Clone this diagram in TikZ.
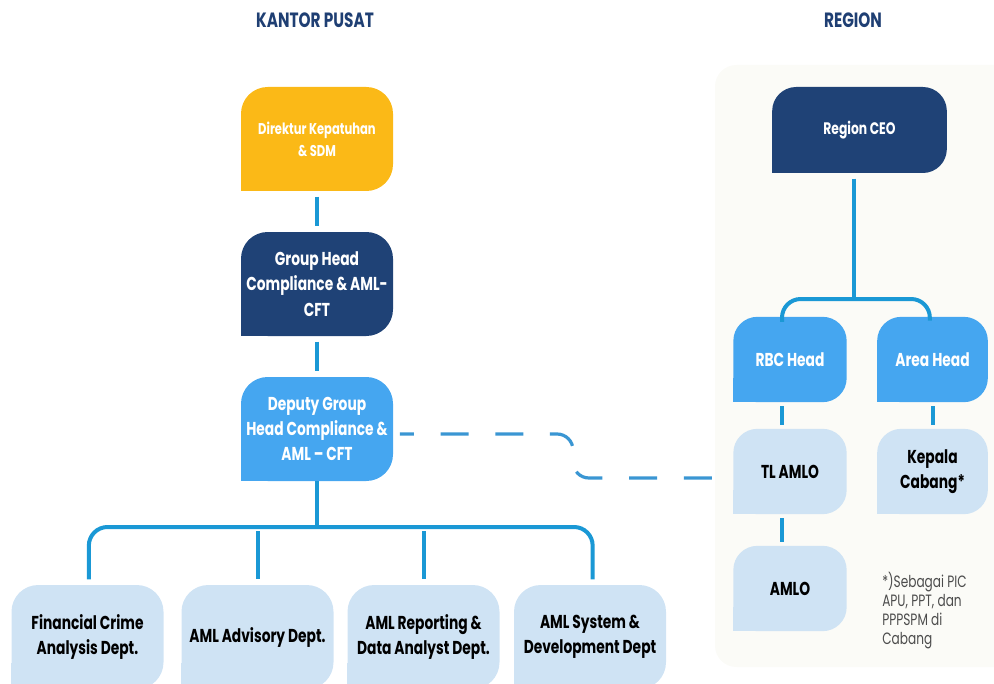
\documentclass[tikz,border=0pt]{standalone}
\usepackage{fontspec}
\setmainfont{Poppins}[FakeStretch=0.74]
\usepackage{xcolor}
\usepackage{tikz}
\usetikzlibrary{calc, backgrounds}

\definecolor{kuning}{HTML}{FBB917}
\definecolor{navy}{HTML}{1F4276}
\definecolor{birumuda}{HTML}{45A6F0}
\definecolor{pucat}{HTML}{CFE3F4}
\definecolor{garisbiru}{HTML}{1A98D5}
\definecolor{putusbiru}{HTML}{3A96D3}
\definecolor{judul}{HTML}{1F3F73}
\definecolor{latar}{HTML}{FBFBF7}

\begin{document}
\begin{tikzpicture}[x=0.75pt, y=-0.75pt,
    kotak/.style={fill=#1, rounded corners=20pt, align=center, inner sep=2pt,
        minimum width=114pt, minimum height=78pt, font=\bfseries\fontsize{14}{19}\selectfont},
    kotakkecil/.style={kotak=#1, rounded corners=18pt, minimum width=85pt, minimum height=64pt},
    garis/.style={line width=3pt, garisbiru},
    putus/.style={line width=2.4pt, putusbiru, dash pattern=on 21pt off 20pt, dash phase=10.5pt}]

    % =================================================================
    % 1. BATAS GAMBAR & LATAR REGION
    % =================================================================
    \clip (0,0) rectangle (994,684);
    \begin{scope}[on background layer]
        \fill[latar, rounded corners=16pt] (715,65) rectangle (1030,667);
    \end{scope}

    % Judul kolom
    \node[judul, font=\bfseries\fontsize{15.5}{18}\selectfont] (tpusat) at (315,20) {KANTOR PUSAT};
    \node[judul, font=\bfseries\fontsize{15.5}{18}\selectfont] (tregion) at (853,20) {REGION};

    % =================================================================
    % 2. KOTAK KANTOR PUSAT
    % =================================================================
    \node[kotak=kuning, text=white, font=\bfseries\fontsize{11.7}{16.5}\selectfont] (dir) at (317,139) {Direktur Kepatuhan\\\& SDM};
    \node[kotak=navy, text=white] (gh) at (317,284) {Group Head\\Compliance \& AML-\\CFT};
    \node[kotak=birumuda, text=white] (dep) at (317,429) {Deputy Group\\Head Compliance \&\\AML -- CFT};

    % Departemen di bawah
    \node[kotak=pucat, text=black] (fca) at (87.5,637) {Financial Crime\\Analysis Dept.};
    \node[kotak=pucat, text=black] (adv) at (257.5,637) {AML Advisory Dept.};
    \node[kotak=pucat, text=black] (rep) at (423.5,637) {AML Reporting \&\\Data Analyst Dept.};
    \node[kotak=pucat, text=black] (sys) at (590,637) {AML System \&\\Development Dept};

    % =================================================================
    % 3. KOTAK REGION
    % =================================================================
    \node[kotak=navy, text=white, rounded corners=18pt, minimum width=131pt, minimum height=64.5pt,
        font=\bfseries\fontsize{12.5}{16}\selectfont] (ceo) at (859.5,130) {Region CEO};
    \node[kotakkecil=birumuda, text=white] (rbc) at (790,359.5) {RBC Head};
    \node[kotakkecil=birumuda, text=white, minimum width=83pt] (area) at (932.5,359.5) {Area Head};
    \node[kotakkecil=pucat, text=black] (tl) at (790,471.5) {TL AMLO};
    \node[kotakkecil=pucat, text=black, minimum width=83pt] (kep) at (932.5,471.5) {Kepala\\Cabang*};
    \node[kotakkecil=pucat, text=black] (amlo) at (790,588.5) {AMLO};

    % Catatan kaki
    \node[anchor=north west, align=left, text=black!70, inner sep=0pt,
        font=\fontsize{12.3}{14.2}\selectfont] (catatan) at (882,572) {*)Sebagai PIC\\APU, PPT, dan\\PPPSPM di\\Cabang};

    % Sudut kiri bawah tetap tajam
    \begin{scope}[on background layer]
        \foreach \n/\c in {dir/kuning, gh/navy, dep/birumuda, fca/pucat, adv/pucat, rep/pucat, sys/pucat}
            \fill[\c] (\n.south west) rectangle ++(20pt,20pt);
        \foreach \n/\c in {ceo/navy, rbc/birumuda, area/birumuda, tl/pucat, kep/pucat, amlo/pucat}
            \fill[\c] (\n.south west) rectangle ++(18pt,18pt);
    \end{scope}

    % =================================================================
    % 4. GARIS PENGHUBUNG
    % =================================================================
    \draw[garis, shorten <=4pt, shorten >=4pt] (dir) -- (gh);
    \draw[garis, shorten <=4pt, shorten >=4pt] (gh) -- (dep);

    \coordinate (busb) at (317,527);
    \draw[garis] (dep) -- (dep |- busb);
    \draw[garis, rounded corners=14pt, shorten <=4pt, shorten >=4pt]
        ([xshift=1pt]fca.north) -- ([xshift=1pt]fca.north |- busb) -- ([xshift=2pt]sys.north |- busb) -- ([xshift=2pt]sys.north);
    \draw[garis, shorten >=4pt] ([yshift=-3pt]adv.north |- busb) -- (adv.north);
    \draw[garis, shorten >=4pt] ([yshift=-3pt]rep.north |- busb) -- (rep.north);

    \coordinate (busr) at (854,299);
    \draw[garis, shorten <=4pt] (ceo.south -| busr) -- (busr);
    \draw[garis, rounded corners=14pt, shorten <=4pt, shorten >=3pt]
        ([xshift=-6pt]rbc.north) -- ([xshift=-6pt]rbc.north |- busr) -- ([xshift=-2pt]area.north |- busr) -- ([xshift=-2pt]area.north);
    \draw[garis, shorten <=3pt, shorten >=3pt] ([xshift=-6pt]rbc.south) -- ([xshift=-6pt]tl.north);
    \draw[garis, shorten <=3pt, shorten >=3pt] (area) -- (kep);
    \draw[garis, shorten <=3pt, shorten >=3pt] ([xshift=-6pt]tl.south) -- ([xshift=-6pt]amlo.north);

    % Garis koordinasi putus-putus
    \coordinate (belok) at (573,434);
    \coordinate (masuk) at (573,478);
    \draw[putus, rounded corners=12pt, shorten <=5pt, shorten >=2pt]
        (dep.east |- belok) -- (belok) -- (masuk) -- (tl.west |- masuk);

\end{tikzpicture}
\end{document}
